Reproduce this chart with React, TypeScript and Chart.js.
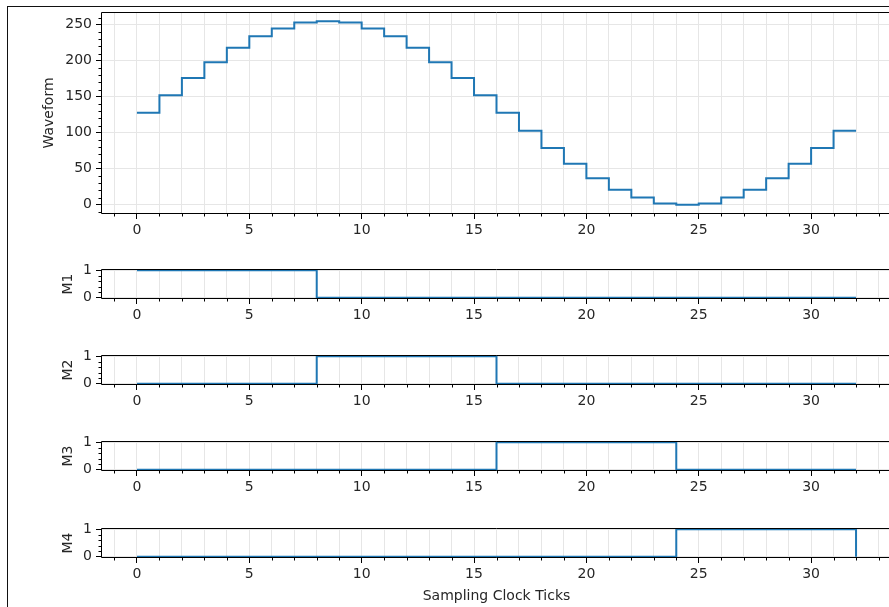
import React, { useEffect, useRef } from 'react';
import { Chart, registerables } from 'chart.js';

Chart.register(...registerables);

// ---- data ----
const clockTicks = [0,1,2,3,4,5,6,7,8,9,10,11,12,13,14,15,16,17,18,19,20,21,22,23,24,25,26,27,28,29,30,31,32];
const waveform = [128,152,176,198,218,234,245,253,255,253,245,234,218,198,176,152,128,103,79,57,37,21,10,2,0,2,10,21,37,57,79,103,103];
const m1 = [1,1,1,1,1,1,1,1,0,0,0,0,0,0,0,0,0,0,0,0,0,0,0,0,0,0,0,0,0,0,0,0,0];
const m2 = [0,0,0,0,0,0,0,0,1,1,1,1,1,1,1,1,0,0,0,0,0,0,0,0,0,0,0,0,0,0,0,0,0];
const m3 = [0,0,0,0,0,0,0,0,0,0,0,0,0,0,0,0,1,1,1,1,1,1,1,1,0,0,0,0,0,0,0,0,0];
const m4 = [0,0,0,0,0,0,0,0,0,0,0,0,0,0,0,0,0,0,0,0,0,0,0,0,1,1,1,1,1,1,1,1,0];
const waveformYTicks = { step: 50, minor: 10, min: -12.75, max: 267.75 };
const binaryYTicks = { step: 1, minor: 0.2, min: -0.05, max: 1.05 };
const xRange = { min: -1.6, max: 33.6, major: 5 };
const xTitle = 'Sampling Clock Ticks';

const TEXT = '#262626';
const GRID = '#e6e6e6';
const LINE = '#1f77b4';
const FONT = 'DejaVu Sans';

const framePlugin = {
  id: 'frame',
  afterDatasetsDraw(chart: any, _args: any, opts: any) {
    const { ctx, chartArea: a, scales } = chart;
    ctx.save();
    ctx.strokeStyle = '#000';
    ctx.lineWidth = 1;
    const L = Math.round(a.left) + 0.5;
    const T = Math.round(a.top) + 0.5;
    const R = Math.round(a.right) - 0.5;
    const B = Math.round(a.bottom) - 0.5;
    ctx.beginPath();
    ctx.moveTo(L, T); ctx.lineTo(R, T); ctx.lineTo(R, B); ctx.lineTo(L, B); ctx.closePath();
    ctx.stroke();
    const xs = scales.x;
    ctx.beginPath();
    for (let v = Math.ceil(xs.min); v <= xs.max; v++) {
      if (v % xRange.major === 0) continue;
      const px = Math.round(xs.getPixelForValue(v)) + 0.5;
      ctx.moveTo(px, B);
      ctx.lineTo(px, B + 3);
    }
    const ys = scales.y;
    const step = opts.minor;
    const major = opts.major;
    const i0 = Math.ceil(ys.min / step - 1e-9);
    const i1 = Math.floor(ys.max / step + 1e-9);
    for (let i = i0; i <= i1; i++) {
      const v = i * step;
      const r = v / major;
      if (Math.abs(r - Math.round(r)) < 1e-6) continue;
      const py = Math.round(ys.getPixelForValue(v)) + 0.5;
      ctx.moveTo(L, py);
      ctx.lineTo(L - 3, py);
    }
    ctx.stroke();
    ctx.restore();
  },
};

function zeroPad(s: any) {
  s.paddingTop = 0;
  s.paddingBottom = 0;
  s.paddingLeft = 0;
  s.paddingRight = 0;
}

type PanelProps = {
  top: number;
  padTop: number;
  plotH: number;
  xH: number;
  padLeft: number;
  yWidth: number;
  yTitle: string;
  yTicks: { step: number; minor: number; min: number; max: number };
  values: number[];
  showXTitle?: boolean;
};

function Panel(p: PanelProps) {
  const ref = useRef<HTMLCanvasElement>(null);
  const H = p.padTop + p.plotH + p.xH;
  useEffect(() => {
    const chart = new Chart(ref.current as HTMLCanvasElement, {
      type: 'line',
      data: {
        datasets: [
          {
            data: clockTicks.map((t, i) => ({ x: t, y: p.values[i] })),
            borderColor: LINE,
            borderWidth: 2,
            pointRadius: 0,
            stepped: true,
            fill: false,
            tension: 0,
          },
        ],
      },
      options: {
        animation: false,
        responsive: false,
        devicePixelRatio: 1,
        events: [],
        layout: { padding: { top: p.padTop, left: p.padLeft, right: 8, bottom: 0 } },
        plugins: {
          legend: { display: false },
          tooltip: { enabled: false },
          frame: { minor: p.yTicks.minor, major: p.yTicks.step },
        } as any,
        scales: {
          x: {
            type: 'linear',
            min: xRange.min,
            max: xRange.max,
            afterFit: (s: any) => { s.height = p.xH; zeroPad(s); },
            border: { display: false },
            grid: {
              color: GRID,
              lineWidth: 1,
              drawTicks: true,
              tickLength: 5,
              tickWidth: 1,
              tickColor: (c: any) => (c.tick && c.tick.value % xRange.major === 0 ? '#000' : 'rgba(0,0,0,0)'),
            },
            ticks: {
              stepSize: 1,
              includeBounds: false,
              autoSkip: false,
              maxRotation: 0,
              padding: 3,
              color: TEXT,
              font: { family: FONT, size: 14 },
              callback: (v: any) => (Number(v) % xRange.major === 0 ? String(v) : ''),
            },
            title: {
              display: !!p.showXTitle,
              text: xTitle,
              color: TEXT,
              font: { family: FONT, size: 14 },
              padding: { top: 0, bottom: 2 },
            },
          },
          y: {
            type: 'linear',
            min: p.yTicks.min,
            max: p.yTicks.max,
            afterFit: (s: any) => { s.width = p.yWidth; zeroPad(s); },
            border: { display: false },
            grid: {
              color: GRID,
              lineWidth: 1,
              tickLength: 5,
              tickColor: '#000',
            },
            ticks: {
              stepSize: p.yTicks.step,
              includeBounds: false,
              padding: 4,
              color: TEXT,
              font: { family: FONT, size: 14 },
            },
            title: {
              display: true,
              text: p.yTitle,
              color: TEXT,
              font: { family: FONT, size: 14 },
              padding: { top: 0, bottom: 0 },
            },
          },
        },
      } as any,
      plugins: [framePlugin as any],
    });
    return () => chart.destroy();
  }, []);
  return (
    <canvas
      ref={ref}
      width={900}
      height={H}
      style={{ position: 'absolute', left: 0, top: p.top, width: 900, height: H }}
    />
  );
}

export default function App() {
  return (
    <div style={{ position: 'absolute', left: 0, top: 0, width: 889, height: 607, overflow: 'hidden', background: '#fff' }}>
      <div style={{ position: 'absolute', left: 7, top: 6, width: 1000, height: 1000, border: '1px solid #111', boxSizing: 'border-box' }} />
      <Panel top={0} padTop={12} plotH={202} xH={26} padLeft={41} yWidth={60} yTitle="Waveform" yTicks={waveformYTicks} values={waveform} />
      <Panel top={263} padTop={6} plotH={30} xH={26} padLeft={60} yWidth={41} yTitle="M1" yTicks={binaryYTicks} values={m1} />
      <Panel top={349} padTop={6} plotH={30} xH={26} padLeft={60} yWidth={41} yTitle="M2" yTicks={binaryYTicks} values={m2} />
      <Panel top={435} padTop={6} plotH={30} xH={26} padLeft={60} yWidth={41} yTitle="M3" yTicks={binaryYTicks} values={m3} />
      <Panel top={522} padTop={6} plotH={30} xH={49} padLeft={60} yWidth={41} yTitle="M4" yTicks={binaryYTicks} values={m4} showXTitle />
    </div>
  );
}
